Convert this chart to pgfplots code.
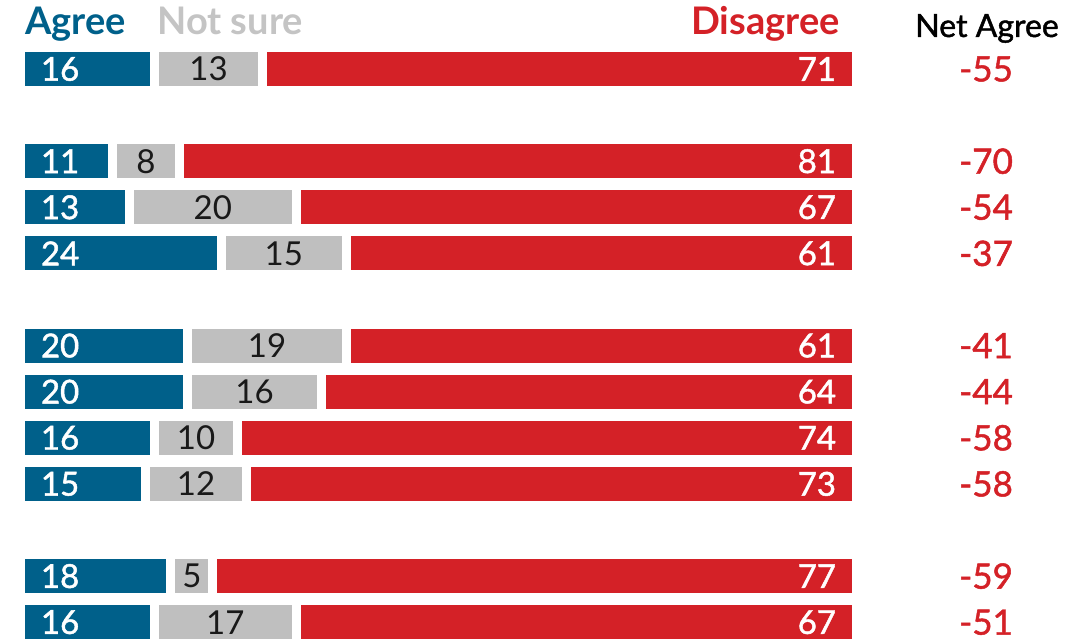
\documentclass[border=0pt]{standalone}
\usepackage{pgfplots}
\pgfplotsset{compat=1.18}
\usepackage{pgfplotstable}
\usepackage{fontspec}
\setmainfont{Lato}
\newfontfamily\medfont[FakeBold=1.4]{Lato}
\definecolor{agreeblue}{HTML}{00608A}
\definecolor{nsgray}{HTML}{BFBFBF}
\definecolor{disred}{HTML}{D42127}
\definecolor{hdrgray}{HTML}{C4C4C4}
\pgfplotstableread{
y agree notsure disagree net
0 16 13 71 -55
2 11 8 81 -70
3 13 20 67 -54
4 24 15 61 -37
6 20 19 61 -41
7 20 16 64 -44
8 16 10 74 -58
9 15 12 73 -58
11 18 5 77 -59
12 16 17 67 -51
}\datatable
\begin{document}
\begin{tikzpicture}
\useasboundingbox (0,0) rectangle (546bp,320.5bp);
\pgfplotsset{common/.style={at={(10.25bp,299.83bp)}, anchor=north west, scale only axis,
  width=418bp, height=304.26bp, xmin=0, xmax=100, ymin=-0.6, ymax=12.6, y dir=reverse,
  hide axis, clip=false}}
\begin{axis}[common, xbar stacked, bar width=21.5bp]
\addplot[fill=agreeblue, draw=white, line width=4.5bp] table[x=agree, y=y]{\datatable};
\addplot[fill=nsgray, draw=white, line width=4.5bp] table[x=notsure, y=y]{\datatable};
\addplot[fill=disred, draw=white, line width=4.5bp] table[x=disagree, y=y]{\datatable};
\end{axis}
\begin{axis}[common]
\addplot[draw=none, mark=none, nodes near coords={\pgfplotspointmeta}, point meta=explicit symbolic,
  nodes near coords style={anchor=west, inner sep=0pt, text=white, font=\medfont\fontsize{16.5bp}{16.5bp}\selectfont}]
  table[x expr=2.4, y=y, meta=agree]{\datatable};
\addplot[draw=none, mark=none, nodes near coords={\pgfplotspointmeta}, point meta=explicit symbolic,
  nodes near coords style={anchor=center, inner sep=0pt, text=black!90, font=\fontsize{16.5bp}{16.5bp}\selectfont}]
  table[x expr=\thisrow{agree}+0.5*\thisrow{notsure}, y=y, meta=notsure]{\datatable};
\addplot[draw=none, mark=none, nodes near coords={\pgfplotspointmeta}, point meta=explicit symbolic,
  nodes near coords style={anchor=east, inner sep=0pt, text=white, font=\medfont\fontsize{16.5bp}{16.5bp}\selectfont}]
  table[x expr=97.6, y=y, meta=disagree]{\datatable};
\addplot[draw=none, mark=none, nodes near coords={\pgfplotspointmeta}, point meta=explicit symbolic,
  nodes near coords style={anchor=center, inner sep=0pt, text=disred, font=\medfont\fontsize{17.5bp}{17.5bp}\selectfont}]
  table[x expr=115.5, y=y, meta=net]{\datatable};
\end{axis}
\node[anchor=base west, inner sep=0pt, text=agreeblue, font=\fontsize{19bp}{19bp}\selectfont\bfseries] at (12.5bp,303bp) {Agree};
\node[anchor=base west, inner sep=0pt, text=hdrgray, font=\fontsize{19bp}{19bp}\selectfont\bfseries] at (78.5bp,303bp) {Not sure};
\node[anchor=base east, inner sep=0pt, text=disred, font=\fontsize{19bp}{19bp}\selectfont\bfseries] at (420bp,303bp) {Disagree};
\node[anchor=base, inner sep=0pt, text=black, font=\medfont\fontsize{16bp}{16bp}\selectfont] at (493.5bp,302bp) {Net Agree};
\end{tikzpicture}
\end{document}
